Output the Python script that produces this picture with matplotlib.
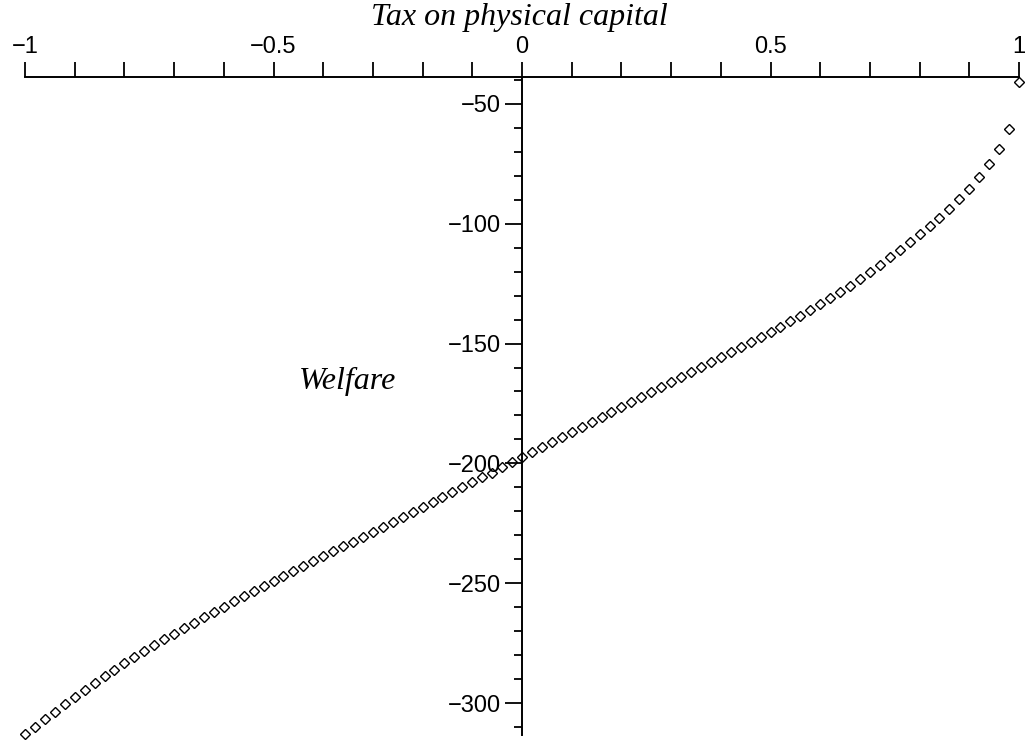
import matplotlib.pyplot as plt
from matplotlib.ticker import MultipleLocator, FuncFormatter

# welfare against the tax rate on physical capital (Maple style point plot)
tax = [-1.00, -0.98, -0.96, -0.94, -0.92, -0.90, -0.88, -0.86, -0.84, -0.82,
       -0.80, -0.78, -0.76, -0.74, -0.72, -0.70, -0.68, -0.66, -0.64, -0.62,
       -0.60, -0.58, -0.56, -0.54, -0.52, -0.50, -0.48, -0.46, -0.44, -0.42,
       -0.40, -0.38, -0.36, -0.34, -0.32, -0.30, -0.28, -0.26, -0.24, -0.22,
       -0.20, -0.18, -0.16, -0.14, -0.12, -0.10, -0.08, -0.06, -0.04, -0.02,
       0.00, 0.02, 0.04, 0.06, 0.08, 0.10, 0.12, 0.14, 0.16, 0.18,
       0.20, 0.22, 0.24, 0.26, 0.28, 0.30, 0.32, 0.34, 0.36, 0.38,
       0.40, 0.42, 0.44, 0.46, 0.48, 0.50, 0.52, 0.54, 0.56, 0.58,
       0.60, 0.62, 0.64, 0.66, 0.68, 0.70, 0.72, 0.74, 0.76, 0.78,
       0.80, 0.82, 0.84, 0.86, 0.88, 0.90, 0.92, 0.94, 0.96, 0.98, 1.00]

welfare = [-313.0, -309.8, -306.6, -303.5, -300.4, -297.4, -294.5, -291.6, -288.8, -286.1,
           -283.4, -280.8, -278.3, -275.8, -273.4, -271.0, -268.7, -266.4, -264.1, -261.9,
           -259.7, -257.5, -255.3, -253.2, -251.1, -249.0, -246.9, -244.9, -242.8, -240.8,
           -238.7, -236.7, -234.6, -232.6, -230.5, -228.5, -226.4, -224.3, -222.3, -220.2,
           -218.2, -216.1, -214.1, -212.0, -210.0, -207.9, -205.8, -203.8, -201.7, -199.6,
           -197.5, -195.4, -193.3, -191.2, -189.1, -187.0, -184.9, -182.8, -180.7, -178.6,
           -176.5, -174.4, -172.3, -170.2, -168.1, -166.0, -163.9, -161.9, -159.9, -157.9,
           -155.8, -153.7, -151.6, -149.5, -147.4, -145.2, -143.0, -140.7, -138.4, -136.0,
           -133.6, -131.1, -128.5, -125.8, -123.0, -120.1, -117.1, -114.0, -110.8, -107.6,
           -104.4, -101.0, -97.5, -93.8, -89.8, -85.5, -80.7, -75.3, -68.8, -60.4, -40.8]

x_major = [-1, -0.5, 0, 0.5, 1]
y_major = [-50, -100, -150, -200, -250, -300]


def minus_fmt(v, pos):
    s = ('%g' % v).replace('-', '\u2212')
    return s


fig = plt.figure(figsize=(10.29, 7.41), dpi=100)
# axes box: x from -1 to 1, x axis drawn across the top
ax = fig.add_axes([25 / 1029, 6 / 741, 994 / 1029, 658 / 741])
ax.set_xlim(-1, 1)
ax.set_ylim(-313.3, -38.8)

ax.plot(tax, welfare, linestyle='none', marker='D', markersize=5.3,
        markerfacecolor='none', markeredgecolor='black', markeredgewidth=1.0,
        clip_on=False)

for side in ['right', 'bottom']:
    ax.spines[side].set_visible(False)
ax.spines['left'].set_position(('data', 0))
ax.spines['top'].set_linewidth(1.4)
ax.spines['left'].set_linewidth(1.4)

ax.xaxis.set_ticks_position('top')
ax.set_xticks(x_major)
ax.xaxis.set_minor_locator(MultipleLocator(0.1))
ax.xaxis.set_major_formatter(FuncFormatter(minus_fmt))
ax.tick_params(axis='x', which='both', direction='out', length=11, width=1.3,
               pad=3, labelsize=17)

ax.set_yticks(y_major)
ax.yaxis.set_minor_locator(MultipleLocator(10))
ax.yaxis.set_major_formatter(FuncFormatter(minus_fmt))
ax.tick_params(axis='y', which='major', direction='out', length=12, width=1.3,
               pad=3, labelsize=17)
ax.tick_params(axis='y', which='minor', direction='out', length=6, width=1.3)

for lbl in ax.get_xticklabels() + ax.get_yticklabels():
    lbl.set_family('Liberation Sans')

fig.text(519 / 1029, 1 - 17 / 741, 'Tax on physical capital', ha='center',
         va='center', fontsize=23, style='italic', family='Liberation Serif')
ax.text(-0.35, -166, 'Welfare', ha='center', va='center', fontsize=23,
        style='italic', family='Liberation Serif')

fig.savefig('out.png', dpi=100)
